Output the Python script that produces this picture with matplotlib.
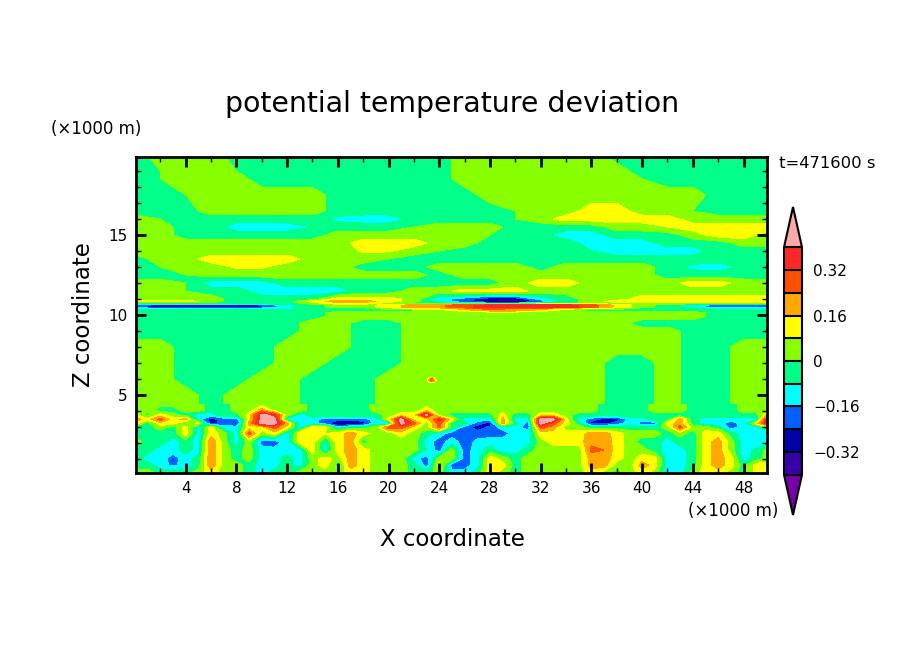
import matplotlib
matplotlib.use('Agg')
import matplotlib.pyplot as plt
import numpy as np

# values are in 0.01 K
levels = [-0.40, -0.32, -0.24, -0.16, -0.08, 0, 0.08, 0.16, 0.24, 0.32, 0.40]
band_colors = ['#3800a8', '#0000a8', '#0060ff', '#00ffff', '#00ff88', '#88ff00',
               '#ffff00', '#ffa800', '#ff5000', '#ff2828']
under_color = '#7800a8'
over_color = '#ffa8a8'
cbar_ticks = [-0.32, -0.16, 0, 0.16, 0.32]
cbar_labels = ['\u22120.32', '\u22120.16', '0', '0.16', '0.32']

# lower layer, every 1 km
x_low = list(range(0, 51))
z_low = [0.125, 0.62, 1.04, 1.56, 2.08, 2.6, 2.98, 3.23, 3.48, 3.75, 4.06, 4.48]
theta_low = [
    [4,4,-4,-4,-4,4,12,4,4,-4,-12,-4,-4,4,4,4,4,12,12,4,4,4,-4,-4,4,-12,
     -12,-4,12,4,-4,4,4,4,4,4,12,4,-4,4,12,4,-12,-12,4,12,12,4,-4,12,12],
    [-4,-4,-12,-18,-12,-4,23,4,4,-4,-12,-12,-4,-12,4,12,-4,20,12,4,4,4,-4,-20,12,-20,
     -20,-12,12,12,-4,4,4,4,4,4,20,20,4,4,20,12,-12,-12,-4,12,20,12,-4,12,12],
    [-4,-12,-12,-20,-12,-4,23,4,-4,4,-12,-12,-4,-12,4,12,4,20,12,4,4,4,-12,-20,4,4,
     -20,-12,12,4,-4,4,4,4,4,4,20,20,12,4,12,12,-12,-12,-4,12,20,12,-12,-4,4],
    [-4,-4,-12,-12,-4,-12,23,4,-4,4,-12,-14,-12,-12,12,-12,12,20,12,4,4,4,4,-8,-20,4,
     -20,-12,-4,-12,-12,-4,4,4,4,4,26,24,12,4,4,-4,-12,-12,-4,12,20,4,-12,-6,4],
    [4,-4,-4,-12,-4,-12,23,4,-12,4,-20,-20,-12,12,12,-8,12,20,-4,4,4,4,4,-12,-20,-12,
     -20,-14,-12,-12,-12,-12,4,12,12,12,22,22,12,4,-4,-4,-12,-4,-4,12,20,4,-12,-14,-12],
    [-4,-4,-4,-4,12,-12,12,4,-12,28,4,12,-12,12,12,8,12,20,12,4,4,12,4,-4,-12,-20,
     -20,-20,-20,-20,-12,-12,12,12,12,12,20,20,12,4,4,4,-4,4,-4,12,12,-4,-12,-12,-12],
    [-4,-4,4,-4,12,-12,12,-12,-12,12,12,28,12,-12,12,12,-12,-4,-4,4,28,28,12,4,28,-4,
     -20,-28,-22,-12,-12,-20,28,20,4,4,-4,-4,-4,-4,-4,-4,4,28,4,4,-4,-20,-12,-12,4],
    [12,-4,12,12,-4,12,-28,-20,-28,20,44,44,20,-12,-12,-20,-36,-36,-28,-12,-16,44,28,4,28,-4,
     -4,-20,-28,20,-4,-20,44,28,12,-4,-28,-28,-20,-12,-20,-20,12,20,-4,-12,-12,-20,-12,12,44],
    [20,12,28,12,20,-12,-28,-20,-20,12,44,44,-12,-12,-12,-20,-20,-20,-20,-12,12,44,12,12,36,12,
     -12,-12,-12,20,-12,-12,44,44,12,-12,-20,-28,-28,-12,-12,-4,-4,20,-4,-12,-12,-12,-12,-12,44],
    [12,-4,12,4,-4,-12,-12,-4,-4,12,44,36,4,-12,-4,-4,-4,-4,-4,-4,4,12,12,44,4,-4,
     -4,-4,-4,12,-4,-4,12,12,4,-4,-4,-4,-4,-4,-4,-4,-4,-4,-4,-4,-4,-4,-4,-4,20],
    [4,4,-4,-4,4,4,-4,-4,4,4,20,4,4,4,-4,-4,-4,-4,-4,4,4,4,4,12,4,4,
     4,4,4,4,4,4,4,4,4,4,4,-4,-4,-4,-4,4,4,4,-4,-4,-4,-4,4,4,4],
    [4,4,4,4,4,4,-4,-4,4,4,4,4,4,4,-4,-4,-4,-4,-4,4,4,4,4,4,4,4,
     4,4,4,4,4,4,4,4,4,4,4,-4,-4,-4,-4,4,4,4,-4,-4,-4,-4,4,4,4],
]

# everything above it, every 2 km
x_up = list(range(0, 51, 2))
z_up = [4.48, 5, 6, 7, 8, 9, 9.5, 9.9, 10.15, 10.28, 10.4, 10.5, 10.62, 10.72, 10.85, 11,
        11.5, 12, 12.5, 13, 13.5, 14, 14.5, 15, 15.5, 16, 16.5, 17.5, 18.5, 19, 20]
theta_up = [
    [4,4,4,-4,4,4,4,-4,-4,-4,4,4,4,4,4,4,4,4,4,-4,-4,4,-4,-4,4,4],
    [4,4,4,-4,4,4,4,-4,-4,-4,4,4,4,4,4,4,4,4,4,-4,-4,4,-4,-4,4,4],
    [4,4,-4,-4,-4,4,4,-4,-4,-4,4,4,4,4,4,4,4,4,4,-4,-4,4,-4,-4,4,4],
    [4,4,-4,-4,-4,-4,4,4,-4,-4,-4,4,4,4,4,4,4,4,4,-4,-4,4,-4,-4,4,4],
    [4,4,-4,-4,-4,-4,4,4,4,-4,-4,4,4,4,4,4,4,4,4,4,4,4,-4,-4,4,4],
    [-4,-4,-4,-4,-4,-4,-4,4,4,-4,-4,4,4,4,4,4,4,4,4,4,4,4,-4,-4,-4,-4],
    [-4,-4,-4,-4,-4,-4,-4,4,4,-4,-4,4,4,4,4,4,4,4,4,4,-4,-4,-4,-4,-4,-4],
    [-4,-4,-4,-4,-4,-4,-4,-4,4,4,4,4,4,4,4,4,4,4,4,4,4,4,4,-4,-4,-4],
    [-4,-4,-4,-4,-4,-4,-4,-4,4,4,4,4,4,4,4,4,4,4,4,4,4,4,4,-4,-4,-4],
    [-4,-4,-4,-4,-4,-4,-4,-4,-4,-4,-4,-4,4,12,20,20,12,4,-4,-4,-4,-4,-4,-4,-4,-4],
    [-12,-12,-12,-12,-12,-12,-12,-4,-4,-4,4,12,12,20,28,24,20,12,4,4,-4,-4,-4,-12,-12,-12],
    [-20,-28,-34,-38,-34,-24,-10,-4,4,4,12,20,22,30,36,36,36,36,28,14,4,-4,-12,-20,-20,-20],
    [-20,-28,-34,-38,-34,-24,-10,-4,4,4,12,20,22,30,36,36,36,36,28,14,4,-4,-12,-20,-20,-20],
    [-4,-4,-4,-4,-4,-4,-4,4,12,12,4,-4,-4,-12,-12,-12,-4,-4,4,4,4,4,4,4,4,4],
    [12,12,12,4,-4,-4,-4,12,20,20,12,4,-12,-20,-34,-38,-22,-4,4,12,12,12,12,12,12,12],
    [4,4,4,4,-4,-4,-4,-4,12,12,12,4,-12,-20,-30,-30,-12,-4,4,4,12,12,12,12,12,12],
    [4,4,0,-4,-4,-12,-12,-12,-12,-4,-4,4,4,12,12,12,4,4,4,4,4,4,4,4,4,4],
    [4,4,0,-12,-12,-12,-4,-4,-4,-4,-4,-4,-4,-4,-4,4,12,12,4,4,4,4,12,12,4,4],
    [-4,-4,0,4,4,4,4,4,4,4,4,4,-4,4,4,4,4,4,4,4,4,-4,-4,-4,-4,-4],
    [-4,0,4,4,9,9,4,4,4,-4,-4,-4,4,4,4,4,-4,4,4,4,4,-4,-10,-12,-6,-4],
    [-4,4,4,12,12,12,12,4,4,4,0,-4,-4,-4,-4,-4,-4,-4,-4,-4,-4,-4,-4,-4,-4,-4],
    [4,4,4,4,4,4,4,4,4,9,9,4,0,-4,-4,-4,-4,-4,-8,-12,-12,-12,-12,-4,-4,-4],
    [4,4,4,4,4,4,4,4,4,12,12,12,4,4,-4,-4,-4,-4,-12,-12,-12,-4,-4,-4,4,4],
    [4,4,-4,-4,-4,-4,-4,-4,4,4,4,4,4,4,0,-4,-6,-12,-12,-4,-4,-4,4,12,12,4],
    [4,4,-4,-4,-12,-12,-12,-8,-4,-4,-4,0,4,4,4,-4,-4,-4,-4,4,4,8,12,12,12,12],
    [4,0,-4,-4,-4,-4,-4,-4,-10,-12,-12,-6,-4,-4,-4,0,4,12,12,12,12,12,4,4,4,4],
    [-4,-4,-4,4,4,4,4,4,-4,-4,-4,-4,-4,-4,-4,0,4,4,12,12,4,4,0,-4,-4,-4],
    [-4,-4,0,4,4,4,4,4,-4,-4,-4,-4,-4,-4,4,4,4,4,4,4,4,4,4,-4,-4,-4],
    [-4,0,4,4,4,-4,-4,-4,-4,-4,-4,-4,-4,4,4,4,4,4,4,4,0,-4,-4,-4,-4,-4],
    [-4,0,4,4,0,-4,-4,-4,-4,-4,-4,-4,-4,4,4,4,4,4,4,4,-4,-4,-4,-4,-4,-4],
    [-4,4,4,4,-4,-4,-4,-4,-4,-4,-4,-4,-4,4,4,4,4,4,4,-4,-4,-4,-4,-4,-4,-4],
]

# small spot near x=23, z=6
x_spot = [23.0, 23.2, 23.4, 23.6, 23.8]
z_spot = [5.75, 5.9, 6.0, 6.15]
theta_spot = [
    [4, 4, 4, 4, 4],
    [4, 20, 30, 20, 4],
    [4, 14, 30, 14, 4],
    [4, 4, 4, 4, 4],
]

W, H = 904, 654
fig = plt.figure(figsize=(W / 100, H / 100), dpi=100)
ax = fig.add_axes([136 / W, 1 - 473 / H, (767 - 136) / W, (473 - 157) / H])


def draw(x, z, vals):
    cs = ax.contourf(x, z, np.array(vals) / 100, levels=levels, colors=band_colors,
                     extend='both', antialiased=False)
    cs.cmap.set_under(under_color)
    cs.cmap.set_over(over_color)
    cs.changed()
    return cs


draw(x_low, z_low, theta_low)
cf = draw(x_up, z_up, theta_up)
draw(x_spot, z_spot, theta_spot)

ax.set_xlim(0.08, 49.85)
ax.set_ylim(0.125, 19.875)
ax.set_xticks(range(4, 49, 4))
ax.set_xticks(range(2, 50, 2), minor=True)
ax.set_yticks([5, 10, 15])
ax.set_yticks(range(1, 20), minor=True)
ax.tick_params(which='major', direction='in', top=True, right=True, length=7, width=2,
               labelsize=11, pad=6)
ax.tick_params(which='minor', direction='in', top=True, right=True, length=3.5, width=1)
for s in ax.spines.values():
    s.set_linewidth(2)

# colorbar, the axes includes the two end triangles
cax = fig.add_axes([784 / W, 1 - 515 / H, 18 / W, 308 / H])
cb = fig.colorbar(cf, cax=cax, extend='both', extendfrac=0.177, drawedges=True)
cb.set_ticks(cbar_ticks, labels=cbar_labels)
cb.ax.tick_params(length=0, labelsize=11, pad=8)
cb.outline.set_linewidth(1.5)
cb.dividers.set_linewidth(1.5)
cb.dividers.set_color('black')


def px_text(x, y, s, **kw):
    fig.text(x / W, 1 - y / H, s, ha='center', va='center', **kw)


px_text(452, 104, 'potential temperature deviation', fontsize=20.4)
px_text(96, 129, '(\u00d71000 m)', fontsize=12)
px_text(733, 511, '(\u00d71000 m)', fontsize=12)
px_text(827, 163, 't=471600 s', fontsize=11.8)
px_text(452, 539, 'X coordinate', fontsize=16.5)
px_text(83, 315, 'Z coordinate', fontsize=16.5, rotation=90)

fig.savefig('out.png', dpi=100)
